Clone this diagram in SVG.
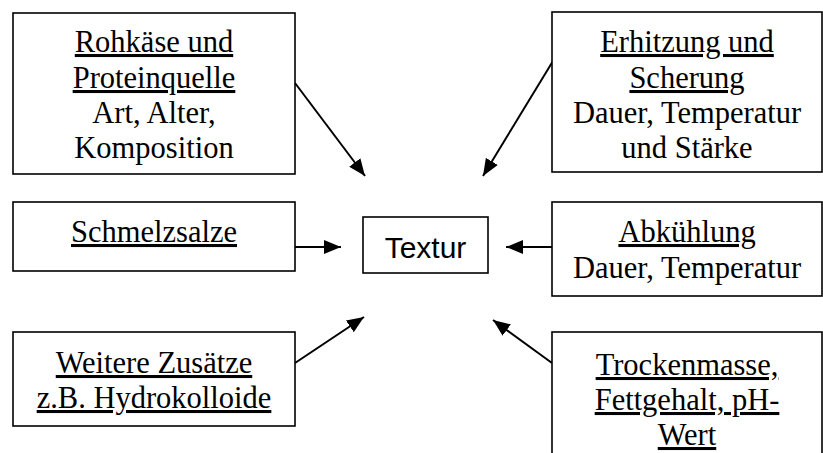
<svg xmlns="http://www.w3.org/2000/svg" width="823" height="453" viewBox="0 0 823 453">
<style>
.box{fill:#fff;stroke:#000;stroke-width:1.6}
.t{font-family:"Liberation Serif","Times New Roman",serif;font-size:30.5px;fill:#000;text-anchor:middle}
.u{text-decoration:underline}
.s{font-family:"Liberation Sans",Arial,sans-serif;font-size:30px;fill:#000;text-anchor:middle}
.c{stroke:#000;stroke-width:2;fill:none;marker-end:url(#ah)}
</style>
<defs>
<marker id="ah" markerUnits="userSpaceOnUse" markerWidth="18" markerHeight="14" refX="17" refY="7" orient="auto">
<path d="M0,0 L17,7 L0,14 Z" fill="#000"/>
</marker>
</defs>
<rect width="823" height="453" fill="#fff"/>
<g id="connectors">
<line class="c" x1="295" y1="83" x2="365" y2="176"/>
<line class="c" x1="553" y1="61" x2="483" y2="176"/>
<line class="c" x1="295" y1="247" x2="341" y2="247"/>
<line class="c" x1="552" y1="247" x2="506" y2="247"/>
<line class="c" x1="295" y1="363" x2="364" y2="317"/>
<line class="c" x1="552" y1="363" x2="493" y2="320"/>
</g>
<g id="rohkaese">
<rect class="box" x="13" y="13" width="282" height="161"/>
<text class="t u" x="154" y="52">Rohkäse und</text>
<text class="t u" x="154" y="88">Proteinquelle</text>
<text class="t" x="154" y="123">Art, Alter,</text>
<text class="t" x="154" y="158">Komposition</text>
</g>
<g id="erhitzung">
<rect class="box" x="552" y="12" width="270" height="160"/>
<text class="t u" x="687" y="52">Erhitzung und</text>
<text class="t u" x="687" y="88">Scherung</text>
<text class="t" x="687" y="123">Dauer, Temperatur</text>
<text class="t" x="687" y="158">und Stärke</text>
</g>
<g id="schmelzsalze">
<rect class="box" x="13" y="202" width="282" height="69"/>
<text class="t u" x="154" y="242">Schmelzsalze</text>
</g>
<g id="textur">
<rect class="box" x="363" y="217" width="125" height="56"/>
<text class="s" x="425.5" y="258">Textur</text>
</g>
<g id="abkuehlung">
<rect class="box" x="552" y="202" width="270" height="94"/>
<text class="t u" x="687" y="242">Abkühlung</text>
<text class="t" x="687" y="278">Dauer, Temperatur</text>
</g>
<g id="zusaetze">
<rect class="box" x="13" y="332" width="282" height="94"/>
<text class="t u" x="154" y="373">Weitere Zusätze</text>
<text class="t u" x="154" y="408">z.B. Hydrokolloide</text>
</g>
<g id="trockenmasse">
<rect class="box" x="552" y="332" width="270" height="140"/>
<text class="t u" x="687" y="375">Trockenmasse,</text>
<text class="t u" x="687" y="410">Fettgehalt, pH-</text>
<text class="t u" x="687" y="445">Wert</text>
</g>
</svg>
